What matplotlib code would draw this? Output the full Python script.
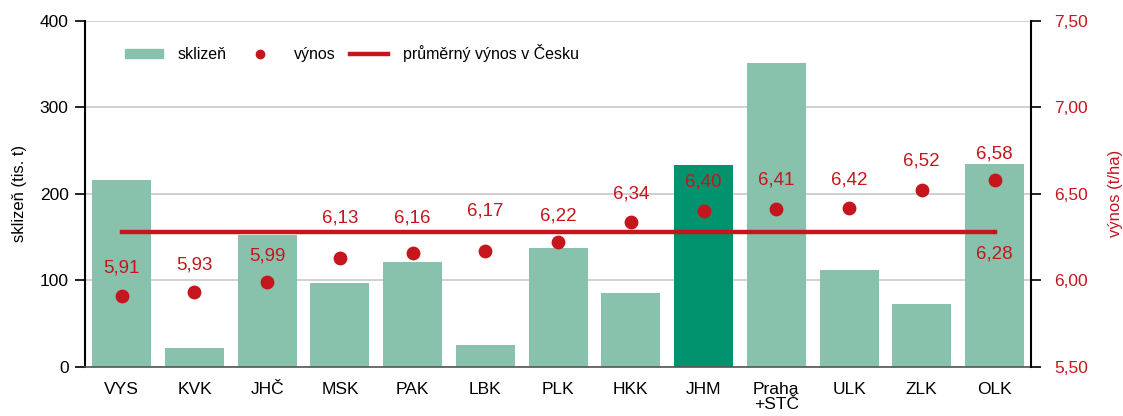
import matplotlib
matplotlib.use('Agg')
import matplotlib.pyplot as plt
from matplotlib.lines import Line2D
from matplotlib.patches import Patch

plt.rcParams['font.family'] = ['Liberation Sans', 'DejaVu Sans']

# data
kraje = ["VYS", "KVK", "JHČ", "MSK", "PAK", "LBK", "PLK", "HKK", "JHM",
         "Praha\n+STČ", "ULK", "ZLK", "OLK"]
sklizen = [216, 22, 153, 97, 121, 25, 138, 85, 233, 351, 112, 73, 235]
vynos = [5.91, 5.93, 5.99, 6.13, 6.16, 6.17, 6.22, 6.34, 6.40, 6.41, 6.42, 6.52, 6.58]
prumer_cr = 6.28
highlight = "JHM"

light_green = "#88c2ac"
dark_green = "#00936e"
red = "#c4161c"

# label offsets above dots (points) - bumped where the mean line is in the way
label_offsets = [20, 20, 19, 29, 25, 29, 19, 20, 21, 21, 20, 21, 19]

fig, ax = plt.subplots(figsize=(11.23, 4.16), dpi=100)
fig.subplots_adjust(left=0.076, right=0.918, top=0.95, bottom=0.118)

x = list(range(len(kraje)))
colors = [dark_green if k == highlight else light_green for k in kraje]
ax.bar(x, sklizen, width=0.81, color=colors, zorder=2)

ax.set_xlim(-0.5, len(kraje) - 0.5)
ax.set_ylim(0, 400)
ax.set_yticks([0, 100, 200, 300, 400])
ax.set_xticks(x)
ax.set_xticklabels(kraje, fontsize=12.5, linespacing=0.95)
ax.tick_params(axis='x', length=0, pad=11)
ax.tick_params(axis='y', labelsize=12.5, length=7, width=1.2, direction='out', pad=5)
ax.set_ylabel("sklizeň (tis. t)", fontsize=12, labelpad=9)
ax.yaxis.grid(True, color="#c8c8c8", linewidth=1.2, zorder=0)
ax.set_axisbelow(True)
for s in ['top', 'right']:
    ax.spines[s].set_visible(False)
ax.spines['left'].set_linewidth(1.5)
ax.spines['bottom'].set_color('#555555')
ax.spines['bottom'].set_linewidth(1.2)

ax2 = ax.twinx()
ax2.set_ylim(5.5, 7.5)
ax2.set_yticks([5.5, 6.0, 6.5, 7.0, 7.5])
ax2.set_yticklabels([f"{v:.2f}".replace('.', ',') for v in [5.5, 6.0, 6.5, 7.0, 7.5]])
ax2.tick_params(axis='y', labelsize=12.5, labelcolor=red, length=7, width=1.2, pad=10)
ax2.set_ylabel("výnos (t/ha)", fontsize=12, color=red, labelpad=14)
for s in ['top', 'left', 'bottom']:
    ax2.spines[s].set_visible(False)
ax2.spines['right'].set_linewidth(1.5)

ax2.plot([x[0], x[-1]], [prumer_cr, prumer_cr], color=red, linewidth=3.2, zorder=3)
ax2.scatter(x, vynos, s=80, color=red, zorder=4)

for xi, v, off in zip(x, vynos, label_offsets):
    ax2.annotate(f"{v:.2f}".replace('.', ','), (xi, v), xytext=(0, off),
                 textcoords='offset points', ha='center', va='center',
                 fontsize=13.5, color=red)
ax2.annotate(f"{prumer_cr:.2f}".replace('.', ','), (x[-1], prumer_cr), xytext=(0, -16),
             textcoords='offset points', ha='center', va='center',
             fontsize=13.5, color=red)

handles = [Patch(color=light_green),
           Line2D([], [], marker='o', color=red, linestyle='none', markersize=6),
           Line2D([], [], color=red, linewidth=3.2)]
fig.legend(handles, ["sklizeň", "výnos", "průměrný výnos v Česku"], ncol=3,
           loc='center left', bbox_to_anchor=(125 / 1123, 1 - 53 / 416),
           bbox_transform=fig.transFigure, frameon=False, borderpad=0,
           borderaxespad=0, fontsize=11.5, handlelength=2.4, handletextpad=0.9,
           columnspacing=0.9, handleheight=0.5)

plt.savefig("out.png", dpi=100)
